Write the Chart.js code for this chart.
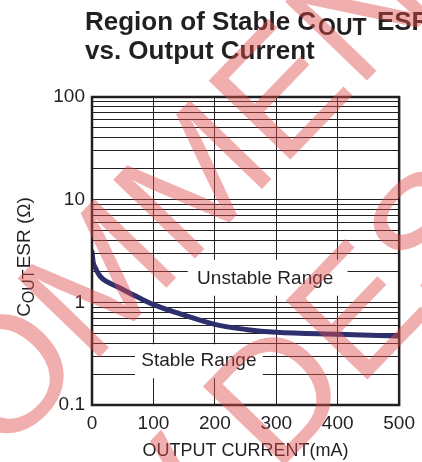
<!DOCTYPE html>
<html>
<head>
<meta charset="utf-8">
<script src="https://cdn.jsdelivr.net/npm/chart.js@4.4.0/dist/chart.umd.min.js"></script>
<style>
html, body { margin: 0; padding: 0; background: #fff; }
</style>
</head>
<body>
<canvas id="esrChart" width="422" height="462"></canvas>
<script>
// values
const currentMA = [0, 2, 5, 13, 25, 43, 75, 100, 150, 200, 250, 300, 400, 500];
const esrOhm = [3.1, 2.45, 2.2, 1.8, 1.58, 1.4, 1.12, 0.95, 0.75, 0.61, 0.545, 0.51, 0.488, 0.47];

const xTicks = [0, 100, 200, 300, 400, 500];
const yTicks = [0.1, 0.2, 0.3, 0.4, 0.5, 0.6, 0.7, 0.8, 0.9,
                1, 2, 3, 4, 5, 6, 7, 8, 9,
                10, 20, 30, 40, 50, 60, 70, 80, 90, 100];
const yLabels = ['0.1', '1', '10', '100'];

const ink = '#231f20';
const fontFamily = '"Liberation Sans", Arial, Helvetica, sans-serif';

// white boxes with the region names, placed in data units (mA, ohm)
const regionNotes = [
    { text: 'Unstable Range', x0: 156, x1: 416, y0: 1.16, y1: 2.6, x: 282, y: 1.71 },
    { text: 'Stable Range', x0: 70, x1: 278, y0: 0.182, y1: 0.39, x: 174, y: 0.268 }
];

const regionPlugin = {
    id: 'regions',
    beforeDatasetsDraw(chart) {
        const { ctx, scales: { x, y } } = chart;
        ctx.save();
        regionNotes.forEach(n => {
            const l = x.getPixelForValue(n.x0), r = x.getPixelForValue(n.x1);
            const t = y.getPixelForValue(n.y1), b = y.getPixelForValue(n.y0);
            ctx.fillStyle = '#ffffff';
            ctx.fillRect(l, t, r - l, b - t);
            ctx.fillStyle = ink;
            ctx.font = '19px ' + fontFamily;
            ctx.textAlign = 'center';
            ctx.textBaseline = 'middle';
            ctx.fillText(n.text, x.getPixelForValue(n.x), y.getPixelForValue(n.y));
        });
        ctx.restore();
    },
    afterDatasetsDraw(chart) {
        const { ctx, chartArea: a } = chart;
        ctx.save();
        ctx.strokeStyle = ink;
        ctx.lineWidth = 2.5;
        ctx.strokeRect(a.left, a.top, a.right - a.left, a.bottom - a.top);
        ctx.restore();
    }
};

// place a rotated line of text so that one letter's baseline-left sits on (px, py)
function watermarkLine(ctx, text, prefix, px, py, ang) {
    const ux = Math.cos(ang), uy = Math.sin(ang);
    const along = ctx.measureText(prefix).width + ctx.measureText('E').actualBoundingBoxLeft * -1;
    ctx.save();
    ctx.translate(px - ux * along, py - uy * along);
    ctx.rotate(ang);
    ctx.fillText(text, 0, 0);
    ctx.restore();
}

const textPlugin = {
    id: 'texts',
    afterDraw(chart) {
        const ctx = chart.ctx;
        ctx.save();
        ctx.fillStyle = ink;
        ctx.textBaseline = 'alphabetic';
        ctx.textAlign = 'left';

        // title with subscript
        let tx = 85;
        ctx.font = 'bold 26px ' + fontFamily;
        ctx.fillText('Region of Stable C', tx, 30);
        tx += ctx.measureText('Region of Stable C').width + 2;
        ctx.font = 'bold 23px ' + fontFamily;
        ctx.fillText('OUT', tx, 35);
        tx += ctx.measureText('OUT').width + 3;
        ctx.font = 'bold 26px ' + fontFamily;
        ctx.fillText(' ESR', tx, 30);
        ctx.fillText('vs. Output Current', 85, 59);

        // y axis title, rotated
        const mid = (chart.chartArea.top + chart.chartArea.bottom) / 2 + 6;
        ctx.translate(30, mid);
        ctx.rotate(-Math.PI / 2);
        ctx.font = '19px ' + fontFamily;
        const wC = ctx.measureText('C').width;
        const wRest = ctx.measureText('ESR (\u03a9)').width;
        ctx.font = '16px ' + fontFamily;
        const wSub = ctx.measureText('OUT').width;
        let px = -(wC + wSub + wRest + 1) / 2;
        ctx.font = '19px ' + fontFamily;
        ctx.fillText('C', px, 0);
        px += wC;
        ctx.font = '16px ' + fontFamily;
        ctx.fillText('OUT', px, 4);
        px += wSub + 1;
        ctx.font = '19px ' + fontFamily;
        ctx.fillText('ESR (\u03a9)', px, 0);
        ctx.restore();

        // watermark
        ctx.save();
        ctx.fillStyle = 'rgba(225, 75, 75, 0.45)';
        ctx.font = '165px ' + fontFamily;
        ctx.textAlign = 'left';
        ctx.textBaseline = 'alphabetic';
        const ang = -46 * Math.PI / 180;
        watermarkLine(ctx, 'NOT RECOMMENDED', 'NOT RECOMM', 290, 160, ang);
        watermarkLine(ctx, 'FOR NEW DESIGNS', 'FOR NEW D', 367, 380, ang);
        ctx.restore();
    }
};

const ctx = document.getElementById('esrChart');

new Chart(ctx, {
    type: 'line',
    data: {
        labels: currentMA,
        datasets: [{
            data: currentMA.map((c, i) => ({ x: c, y: esrOhm[i] })),
            borderColor: '#2e306e',
            borderWidth: 5,
            borderCapStyle: 'round',
            pointRadius: 0,
            cubicInterpolationMode: 'monotone',
            fill: false
        }]
    },
    options: {
        responsive: false,
        animation: false,
        devicePixelRatio: 1,
        layout: {
            padding: { left: 0, right: 22, top: 97, bottom: 0 }
        },
        plugins: {
            legend: { display: false },
            title: { display: false },
            tooltip: { enabled: false }
        },
        scales: {
            x: {
                type: 'linear',
                min: 0,
                max: 500,
                afterFit: s => { s.height = 57; },
                afterBuildTicks: s => { s.ticks = xTicks.map(v => ({ value: v })); },
                ticks: {
                    color: ink,
                    font: { family: fontFamily, size: 19 },
                    padding: 7,
                    maxRotation: 0
                },
                grid: {
                    color: ink,
                    lineWidth: 1,
                    drawTicks: false
                },
                border: { display: false },
                title: {
                    display: true,
                    text: 'OUTPUT CURRENT(mA)',
                    color: ink,
                    font: { family: fontFamily, size: 18 },
                    padding: { top: 0, bottom: 0 }
                }
            },
            y: {
                type: 'logarithmic',
                min: 0.1,
                max: 100,
                afterFit: s => { s.width = 92; },
                afterBuildTicks: s => { s.ticks = yTicks.map(v => ({ value: v })); },
                ticks: {
                    color: ink,
                    font: { family: fontFamily, size: 19 },
                    padding: 7,
                    autoSkip: false,
                    callback: v => yLabels.includes(String(v)) ? String(v) : ''
                },
                grid: {
                    color: ink,
                    lineWidth: 1,
                    drawTicks: false
                },
                border: { display: false }
            }
        }
    },
    plugins: [regionPlugin, textPlugin]
});
</script>
</body>
</html>
